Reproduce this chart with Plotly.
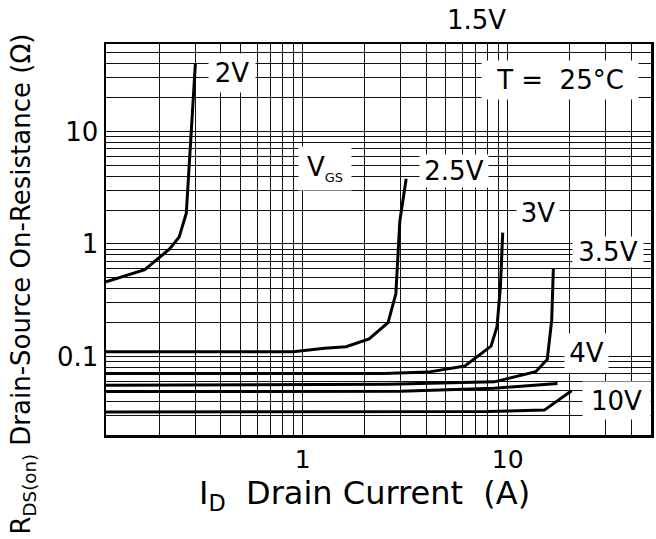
import math
import plotly.graph_objects as go

# ---- data ----
id_2v = [0.11, 0.17, 0.224, 0.25, 0.271, 0.285, 0.30]
r_2v = [0.46, 0.59, 0.90, 1.15, 1.88, 9.5, 40.0]

id_25v = [0.11, 0.9, 1.28, 1.63, 2.11, 2.61, 2.85, 2.98, 3.2]
r_25v = [0.11, 0.11, 0.118, 0.122, 0.143, 0.20, 0.36, 1.6, 3.8]

id_3v = [0.11, 2.5, 4.1, 6.17, 8.3, 8.87, 9.22, 9.46]
r_3v = [0.0705, 0.0705, 0.0725, 0.082, 0.1235, 0.1835, 0.417, 1.26]

id_35v = [0.11, 2.6, 8.6, 13.7, 15.6, 16.4, 16.7]
r_35v = [0.0555, 0.0565, 0.0594, 0.073, 0.094, 0.21, 0.60]

id_4v = [0.11, 3.0, 8.6, 17.5]
r_4v = [0.0487, 0.049, 0.052, 0.0575]

id_10v = [0.11, 8.0, 15.1, 20.5]
r_10v = [0.0321, 0.0323, 0.0333, 0.0494]

series = [(id_2v, r_2v), (id_25v, r_25v), (id_3v, r_3v),
          (id_35v, r_35v), (id_4v, r_4v), (id_10v, r_10v)]

x_major = [1, 10]
x_major_text = ["1", "10"]
x_minor = [0.2, 0.3, 0.4, 0.5, 0.6, 0.7, 0.8, 0.9,
           2, 3, 4, 5, 6, 7, 8, 9, 20, 30, 40]
y_major = [0.1, 1, 10]
y_major_text = ["0.1", "1", "10"]
y_minor = [0.03, 0.04, 0.05, 0.06, 0.07, 0.08, 0.09,
           0.2, 0.3, 0.4, 0.5, 0.6, 0.7, 0.8, 0.9,
           2, 3, 4, 5, 6, 7, 8, 9, 20, 30, 40, 50]

x_min, x_max = 0.11, 50
y_min, y_max = 0.02, 60

FONT = "DejaVu Sans"

fig = go.Figure()
for xs, ys in series:
    fig.add_trace(go.Scatter(x=xs, y=ys, mode="lines",
                             line=dict(color="black", width=3),
                             showlegend=False, hoverinfo="skip"))

W, H = 656, 539
ML, MR, MT, MB = 106, 2, 44, 104
PW, PH = W - ML - MR, H - MT - MB


def px(x):
    return (x - ML) / PW


def py(y):
    return (H - MB - y) / PH


annots = []


def label(text, cx, cy, w=None, h=None, size=26, bg=True):
    d = dict(text=text, x=px(cx), y=py(cy), xref="paper", yref="paper",
             showarrow=False, xanchor="center", yanchor="middle",
             font=dict(family=FONT, size=size, color="black"))
    if bg:
        d.update(bgcolor="white", borderpad=0)
        if w:
            d["width"] = w
        if h:
            d["height"] = h
    annots.append(d)


label("2V", 233, 73, 46, 38)
label("V<sub><span style='font-size:13px'>GS</span></sub>", 326, 168, 52, 43)
label("2.5V", 456, 171, 68, 32)
label("3V", 540, 213, 42, 34)
label("3.5V", 611, 252, 70, 30)
label("4V", 589, 353, 43, 38)
label("10V", 619, 400, 67, 37)
label("T =  25°C", 563, 80, 156, 38)
label("1.5V", 479, 20, bg=False)

# axis titles
annots.append(dict(text="R<sub>DS(on)</sub> Drain-Source On-Resistance (Ω)",
                   x=px(22), y=py(284), xref="paper", yref="paper",
                   textangle=-90, showarrow=False, xanchor="center", yanchor="middle",
                   font=dict(family=FONT, size=26, color="black")))
annots.append(dict(text="I<sub>D</sub>  Drain Current  (A)",
                   x=px(366), y=py(495), xref="paper", yref="paper",
                   showarrow=False, xanchor="center", yanchor="middle",
                   font=dict(family=FONT, size=32, color="black")))

grid_style = dict(showgrid=True, gridcolor="#111111", gridwidth=1)
axis_common = dict(type="log", showline=True, linecolor="black", linewidth=2.5,
                   mirror=True, ticks="", zeroline=False, **grid_style)

fig.update_layout(
    width=W, height=H,
    margin=dict(l=ML, r=MR, t=MT, b=MB, pad=0),
    paper_bgcolor="white", plot_bgcolor="white",
    xaxis=dict(range=[math.log10(x_min), math.log10(x_max)],
               tickvals=x_major, ticktext=x_major_text,
               tickfont=dict(family=FONT, size=25, color="black"),
               minor=dict(tickvals=x_minor, ticks="", **grid_style),
               **axis_common),
    yaxis=dict(range=[math.log10(y_min), math.log10(y_max)],
               tickvals=y_major, ticktext=y_major_text,
               tickfont=dict(family=FONT, size=26, color="black"),
               minor=dict(tickvals=y_minor, ticks="", **grid_style),
               **axis_common),
    annotations=annots,
)

fig.write_html("out.html",
               config={"displayModeBar": False, "staticPlot": True},
               post_script="document.body.style.margin='0';"
                           "document.body.style.overflow='hidden';")
